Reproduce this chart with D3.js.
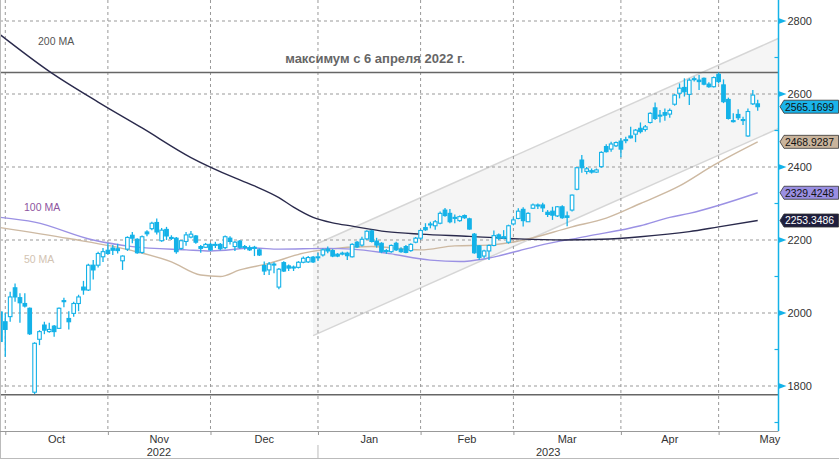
<!DOCTYPE html>
<html>
<head>
<meta charset="utf-8">
<script src="https://cdn.jsdelivr.net/npm/d3@7"></script>
<style>
  body { margin: 0; background: #fff; }
  svg { display: block; font-family: "Liberation Sans", Arial, sans-serif; }
</style>
</head>
<body>
<div id="chart"></div>
<script>
// daily candles, index 0 = 30 Sep 2022 ... 155 = mid May 2023
const candleOpen = [2003,1976,1990,2069,2042,2026,2013,1783,1928,1967,1949,1964,1958,2031,1985,1999,2026,2071,2063,2131,
  2131,2154,2172,2178,2176,2143,2175,2213,2202,2166,2222,2231,2248,2198,2229,2207,2205,2177,2196,2208,
  2211,2182,2180,2188,2186,2188,2179,2205,2182,2197,2182,2179,2177,2173,2130,2118,2132,2071,2138,2129,
  2126,2125,2139,2140,2153,2152,2159,2175,2171,2161,2163,2164,2154,2194,2186,2203,2225,2197,2191,2171,
  2168,2191,2175,2182,2171,2194,2205,2234,2242,2239,2246,2282,2273,2262,2253,2267,2258,2216,2184,2156,
  2170,2185,2214,2209,2194,2244,2259,2284,2250,2287,2294,2296,2276,2279,2266,2291,2266,2282,2339,2419,
  2388,2390,2386,2401,2456,2449,2458,2471,2473,2485,2490,2506,2503,2522,2562,2540,2549,2545,2572,2602,
  2618,2599,2640,2638,2643,2627,2620,2654,2625,2585,2527,2544,2530,2485,2573,2573];
const candleHigh = [2010,2000,2058,2081,2054,2054,2015,1920,1953,1976,1973,1967,2015,2042,2005,2031,2050,2088,2135,2145,
  2168,2178,2191,2186,2190,2158,2210,2222,2205,2212,2227,2250,2259,2233,2236,2213,2208,2200,2222,2225,
  2214,2186,2192,2192,2195,2192,2212,2210,2197,2200,2186,2185,2184,2177,2141,2140,2139,2123,2142,2133,
  2130,2142,2155,2156,2156,2165,2177,2182,2175,2164,2168,2168,2191,2197,2209,2227,2228,2206,2194,2175,
  2188,2195,2180,2186,2191,2208,2229,2246,2250,2255,2278,2288,2285,2270,2267,2270,2261,2219,2186,2173,
  2188,2226,2218,2227,2242,2262,2287,2290,2276,2300,2300,2302,2282,2291,2293,2295,2278,2325,2400,2433,
  2400,2396,2396,2443,2462,2469,2470,2479,2483,2510,2504,2522,2515,2550,2577,2556,2560,2560,2600,2629,
  2643,2643,2648,2652,2645,2632,2648,2659,2640,2590,2547,2558,2538,2560,2611,2584];
const candleLow = [1915,1880,1976,2031,1973,2015,1940,1778,1912,1942,1946,1935,1956,2016,1955,1990,2005,2050,2060,2092,
  2125,2140,2160,2159,2163,2118,2170,2191,2162,2162,2210,2227,2215,2195,2200,2200,2162,2173,2184,2205,
  2190,2165,2178,2170,2178,2172,2175,2188,2170,2176,2173,2170,2156,2156,2104,2104,2109,2065,2112,2115,
  2115,2122,2136,2137,2137,2143,2155,2164,2153,2153,2158,2145,2152,2178,2182,2200,2193,2179,2164,2162,
  2165,2170,2165,2164,2168,2191,2200,2225,2232,2228,2243,2264,2246,2246,2250,2258,2228,2162,2145,2150,
  2145,2183,2200,2202,2190,2240,2257,2237,2250,2285,2285,2277,2263,2255,2263,2258,2238,2278,2336,2384,
  2380,2382,2384,2398,2440,2442,2455,2427,2465,2478,2468,2492,2497,2519,2529,2522,2527,2535,2568,2588,
  2593,2570,2634,2611,2624,2617,2618,2629,2575,2530,2522,2529,2515,2483,2570,2554];
const candleClose = [1922,1955,2044,2044,2028,2019,1943,1917,1949,1953,1955,1949,2013,2034,1976,2026,2044,2063,2131,2118,
  2163,2168,2163,2172,2171,2156,2207,2205,2165,2209,2217,2246,2222,2227,2211,2205,2168,2198,2214,2216,
  2194,2177,2188,2173,2188,2176,2209,2196,2194,2180,2180,2173,2180,2159,2115,2134,2134,2120,2115,2123,
  2124,2139,2150,2152,2140,2154,2173,2170,2156,2156,2164,2157,2188,2181,2202,2224,2196,2186,2168,2169,
  2185,2173,2168,2166,2188,2205,2226,2228,2244,2250,2273,2267,2250,2260,2264,2261,2230,2165,2152,2170,
  2185,2212,2205,2205,2239,2255,2279,2253,2273,2296,2296,2288,2270,2268,2291,2261,2262,2323,2398,2398,
  2395,2386,2392,2440,2442,2463,2467,2449,2475,2480,2501,2497,2510,2547,2533,2542,2542,2555,2597,2616,
  2606,2638,2642,2634,2627,2620,2645,2634,2579,2533,2525,2535,2528,2552,2597,2565.1699];

// moving averages, read at sample candles
const ma200Idx = [0,10,20,29,39,48,52,57,60,64,68,72,79,86,96,106,115,123,131,141,147,155];
const ma200Val = [2762,2662,2578,2507,2426,2370,2348,2316,2290,2262,2247,2238,2223,2216,2210,2203,2200,2202,2209,2223,2236,2253.3486];
const ma100Idx = [0,7,19,27,38,43,52,57,67,72,79,88,94,99,106,110,120,131,137,141,155];
const ma100Val = [2262,2249,2200,2182,2173,2170,2178,2175,2177,2175,2164,2145,2141,2148,2170,2184,2210,2239,2262,2273,2329.4248];
const ma50Idx = [0,14,27,35,41,45,49,55,62,66,76,86,93,100,106,117,124,131,139,146,155];
const ma50Val = [2234,2204,2171,2140,2104,2100,2118,2136,2164,2173,2182,2173,2184,2186,2197,2236,2260,2300,2348,2405,2468.9287];

// trend channel and levels
const channelIdx = [64, 159.2];
const channelUpper = [2185, 2752];
const channelLower = [1938, 2505];
const levelHigh = 2659;
const levelLow = 1776;

// axes
const yTicks = [1800, 2000, 2200, 2400, 2600, 2800];
const yMinor = [1700, 1900, 2100, 2300, 2500, 2700];
const monthBounds = [1, 22, 43, 65, 86, 105, 127, 147, 168];
const monthNames = ["Oct", "Nov", "Dec", "Jan", "Feb", "Mar", "Apr", "May"];
const yearNames = ["2022", "2023"];
const yearStart = 65;

const W = 839, H = 459;
const plotRight = 778.5, axisY = 431;
const cyan = "#14b2e8";

const svg = d3.select("#chart").append("svg")
  .attr("width", W)
  .attr("height", H);

const x = d3.scaleLinear().domain([0, 155]).range([0.4, 757.7]);
const y = d3.scaleLinear().domain([1800, 2800]).range([386, 21]);

svg.append("defs").append("clipPath").attr("id", "plot")
  .append("rect").attr("x", 0).attr("y", 0).attr("width", plotRight).attr("height", axisY);

const plot = svg.append("g").attr("clip-path", "url(#plot)");

// channel band
const chan = channelIdx.map((d, i) => ({ i: d, hi: channelUpper[i], lo: channelLower[i] }));
plot.append("path").datum(chan)
  .attr("d", d3.area().x(d => x(d.i)).y0(d => y(d.lo)).y1(d => y(d.hi)))
  .attr("fill", "#f5f5f5");
["hi", "lo"].forEach(k => {
  plot.append("path").datum(chan)
    .attr("d", d3.line().x(d => x(d.i)).y(d => y(d[k])))
    .attr("fill", "none").attr("stroke", "#d6d6d6").attr("stroke-width", 1.5);
});

// grid
plot.selectAll(".hgrid").data(yTicks).enter().append("line")
  .attr("x1", 0).attr("x2", plotRight)
  .attr("y1", d => y(d)).attr("y2", d => y(d))
  .attr("stroke", "#999").attr("stroke-dasharray", "3,3");
plot.selectAll(".vgrid").data(monthBounds.slice(0, 8)).enter().append("line")
  .attr("x1", d => x(d)).attr("x2", d => x(d))
  .attr("y1", 0).attr("y2", axisY)
  .attr("stroke", "#999").attr("stroke-dasharray", "3,3");

// levels
[levelHigh, levelLow].forEach(v => {
  plot.append("line")
    .attr("x1", 0).attr("x2", plotRight)
    .attr("y1", y(v)).attr("y2", y(v))
    .attr("stroke", "#666").attr("stroke-width", 1.5);
});

// moving averages
const maLine = d3.line().x(d => x(d[0])).y(d => y(d[1])).curve(d3.curveMonotoneX);
const mas = [
  { idx: ma50Idx, val: ma50Val, color: "#cdb9a2" },
  { idx: ma100Idx, val: ma100Val, color: "#9b91e4" },
  { idx: ma200Idx, val: ma200Val, color: "#2a2a4c" }
];
mas.forEach(m => {
  plot.append("path").datum(m.idx.map((d, i) => [d, m.val[i]]))
    .attr("d", maLine)
    .attr("fill", "none").attr("stroke", m.color).attr("stroke-width", 1.4);
});

// candles
const candles = candleOpen.map((o, i) => ({ i, o, h: candleHigh[i], l: candleLow[i], c: candleClose[i] }));
const bw = 3.6;
const cg = plot.selectAll(".candle").data(candles).enter().append("g");
cg.append("line")
  .attr("x1", d => x(d.i)).attr("x2", d => x(d.i))
  .attr("y1", d => y(d.h)).attr("y2", d => y(d.l))
  .attr("stroke", cyan).attr("stroke-width", 1.3);
cg.append("rect")
  .attr("x", d => x(d.i) - bw / 2)
  .attr("y", d => y(Math.max(d.o, d.c)))
  .attr("width", bw)
  .attr("height", d => Math.max(1, Math.abs(y(d.o) - y(d.c))))
  .attr("fill", d => d.c < d.o ? cyan : "#fff")
  .attr("stroke", cyan).attr("stroke-width", 1.1);

// labels
plot.append("text").attr("x", 375).attr("y", 63).attr("text-anchor", "middle")
  .style("font-size", "13px").style("font-weight", "bold").attr("fill", "#666")
  .text("максимум с 6 апреля 2022 г.");
plot.append("text").attr("x", 38).attr("y", 44.5).style("font-size", "10.5px").attr("fill", "#555").text("200 MA");
plot.append("text").attr("x", 24).attr("y", 211).style("font-size", "10.5px").attr("fill", "#8e55a0").text("100 MA");
plot.append("text").attr("x", 24).attr("y", 263).style("font-size", "10.5px").attr("fill", "#d2c3b2").text("50 MA");

// frame
svg.append("line").attr("x1", 0.5).attr("x2", 0.5).attr("y1", 0).attr("y2", H).attr("stroke", "#bbb");
svg.append("line").attr("x1", 0).attr("x2", W).attr("y1", H - 0.5).attr("y2", H - 0.5).attr("stroke", "#bbb");

// bottom axis
const xAxis = svg.append("g")
  .attr("transform", `translate(0,${axisY})`)
  .call(d3.axisBottom(x).tickValues(monthBounds.slice(0, 8)).tickSize(4).tickFormat(""));
xAxis.select(".domain").attr("d", `M0,0.5H${plotRight}`).attr("stroke", "#999");
xAxis.selectAll(".tick line").attr("stroke", "#999");

svg.selectAll(".month").data(monthNames).enter().append("text")
  .attr("x", (d, i) => (x(monthBounds[i]) + x(monthBounds[i + 1])) / 2)
  .attr("y", 443).attr("text-anchor", "middle")
  .style("font-size", "11px").attr("fill", "#333").text(d => d);

const yearMid = [(0 + x(yearStart)) / 2, (x(yearStart) + plotRight) / 2];
svg.selectAll(".year").data(yearNames).enter().append("text")
  .attr("x", (d, i) => yearMid[i]).attr("y", 456).attr("text-anchor", "middle")
  .style("font-size", "11px").attr("fill", "#333").text(d => d);
svg.append("line").attr("x1", x(yearStart)).attr("x2", x(yearStart))
  .attr("y1", 445).attr("y2", H).attr("stroke", "#bbb");

// right axis
const yAxis = svg.append("g")
  .attr("transform", `translate(${plotRight},0)`)
  .call(d3.axisRight(y).tickValues(yTicks).tickSize(0).tickPadding(9).tickFormat(d3.format("d")));
yAxis.select(".domain").remove();
yAxis.selectAll("text").style("font-size", "11px").attr("fill", "#333");
svg.append("line").attr("x1", plotRight).attr("x2", plotRight).attr("y1", 0).attr("y2", axisY)
  .attr("stroke", cyan).attr("stroke-width", 1.5);
svg.selectAll(".tri").data(yTicks).enter().append("path")
  .attr("d", d => `M${plotRight + 0.5},${y(d) - 2.8}L${plotRight + 8},${y(d)}L${plotRight + 0.5},${y(d) + 2.8}Z`)
  .attr("fill", cyan);
svg.selectAll(".minor").data(yMinor).enter().append("line")
  .attr("x1", plotRight - 4).attr("x2", plotRight)
  .attr("y1", d => y(d)).attr("y2", d => y(d))
  .attr("stroke", cyan).attr("stroke-width", 1.2);

// value tags
const tags = [
  { v: candleClose[candleClose.length - 1], bg: "#1ab4ea", fg: "#111" },
  { v: ma50Val[ma50Val.length - 1], bg: "#c9b49c", fg: "#111" },
  { v: ma100Val[ma100Val.length - 1], bg: "#9a8fe2", fg: "#111" },
  { v: ma200Val[ma200Val.length - 1], bg: "#1f1f3e", fg: "#fff" }
];
const tg = svg.selectAll(".tag").data(tags).enter().append("g");
tg.append("path")
  .attr("d", d => {
    const c = y(d.v);
    return `M${plotRight + 1.5},${c}L${plotRight + 5.5},${c - 6.5}H${W - 0.5}V${c + 6.5}H${plotRight + 5.5}Z`;
  })
  .attr("fill", d => d.bg).attr("stroke", "#333").attr("stroke-width", 0.8);
tg.append("text")
  .attr("x", plotRight + 6.5).attr("y", d => y(d.v) + 3.8)
  .style("font-size", "10.4px").attr("fill", d => d.fg)
  .text(d => d.v.toFixed(4));
</script>
</body>
</html>
